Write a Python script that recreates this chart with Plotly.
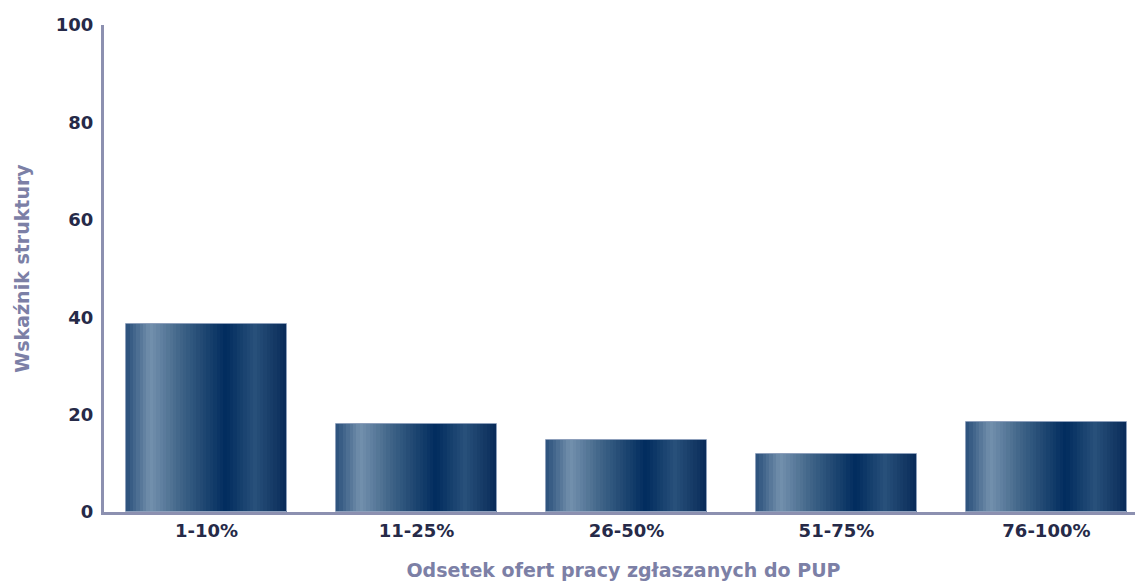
import plotly.graph_objects as go

categories = ["1-10%", "11-25%", "26-50%", "51-75%", "76-100%"]
values = [38.6, 18.0, 14.7, 11.9, 18.5]
y_ticks = [0, 20, 40, 60, 80, 100]

# horizontal gradient stops (position across bar width, colour)
grad_stops = [
    (0.00, (42, 79, 122)),
    (0.15, (115, 144, 173)),
    (0.35, (61, 98, 134)),
    (0.62, (1, 44, 94)),
    (0.80, (40, 80, 122)),
    (1.00, (8, 42, 88)),
]

def grad_color(t):
    for (p0, c0), (p1, c1) in zip(grad_stops[:-1], grad_stops[1:]):
        if p0 <= t <= p1:
            f = (t - p0) / (p1 - p0) if p1 > p0 else 0
            c = [round(a + (b - a) * f) for a, b in zip(c0, c1)]
            return "rgb(%d,%d,%d)" % tuple(c)
    return "rgb(%d,%d,%d)" % grad_stops[-1][1]

bar_w = 0.765
n_slices = 48
slice_w = bar_w / n_slices

fig = go.Figure()
for i in range(n_slices):
    t = (i + 0.5) / n_slices
    fig.add_trace(go.Bar(
        x=categories, y=values,
        width=[slice_w * 1.04] * len(categories),
        offset=[-bar_w / 2 + i * slice_w] * len(categories),
        marker=dict(color=grad_color(t), line=dict(width=0)),
        showlegend=False, hoverinfo="skip",
    ))

# thin light outline
fig.add_trace(go.Bar(
    x=categories, y=values,
    width=[bar_w] * len(categories),
    offset=[-bar_w / 2] * len(categories),
    marker=dict(color="rgba(0,0,0,0)", line=dict(color="#8d9fbb", width=1)),
    showlegend=False, hoverinfo="skip",
))

fig.update_layout(
    width=1135, height=577,
    barmode="overlay",
    bargap=0,
    paper_bgcolor="white",
    plot_bgcolor="white",
    margin=dict(l=96, r=0, t=17, b=73, autoexpand=False),
    font=dict(family="DejaVu Sans", size=14, color="#2b2f4e"),
    xaxis=dict(
        type="category",
        range=[-0.488, 4.46],
        showline=True, linecolor="#8c90b0", linewidth=3,
        ticks="", showgrid=False, zeroline=False,
        tickfont=dict(family="DejaVu Sans", size=18, color="#262a48", weight="bold"),
        title=dict(text="Odsetek ofert pracy zgłaszanych do PUP",
                   font=dict(family="DejaVu Sans", size=19, color="#7c80a6", weight="bold"),
                   standoff=25),
    ),
    yaxis=dict(
        range=[0, 100],
        tickvals=y_ticks,
        ticktext=[str(v) for v in y_ticks],
        showline=True, linecolor="#8c90b0", linewidth=3,
        ticks="", showgrid=False, zeroline=False,
        ticklabelstandoff=4,
        tickfont=dict(family="DejaVu Sans", size=18, color="#262a48", weight="bold"),
        title=dict(text="Wskaźnik struktury",
                   font=dict(family="DejaVu Sans", size=19, color="#7c80a6", weight="bold"),
                   standoff=22),
    ),
)

fig.write_html("out.html")
